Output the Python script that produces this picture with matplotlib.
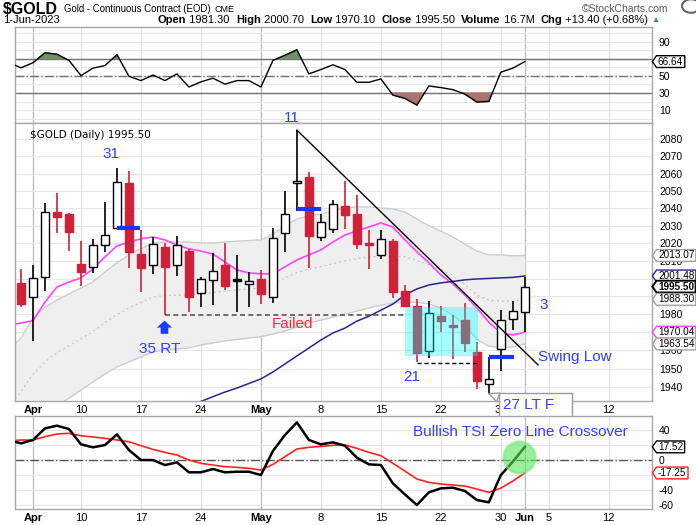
import matplotlib.pyplot as plt
import numpy as np
from matplotlib.path import Path
from matplotlib.patches import Circle
from matplotlib.ticker import FixedLocator, NullLocator, FuncFormatter

plt.rcParams['font.family'] = ['Liberation Sans', 'DejaVu Sans']

# trading days, index 0 = 31-Mar-2023 ... 42 = 1-Jun-2023
opens = [1997.4, 1989.5, 2000.8, 2037.9, 2036.6, 2008.3, 2006.4, 2018.9, 2028.9, 2054.7,
         2014.0, 2007.6, 2017.9, 2007.4, 2015.6, 1991.7, 1999.1, 2007.8, 1999.6, 1996.7,
         1999.8, 1989.9, 2026.1, 2054.5, 2058.0, 2023.8, 2028.0, 2041.3, 2036.8, 2020.2,
         2013.4, 2021.2, 1993.0, 1984.5, 1959.6, 1978.9, 1973.9, 1976.7, 1958.9, 1941.5,
         1960.5, 1977.3, 1981.3]
highs = [2005.5, 2007.7, 2042.9, 2049.0, 2037.1, 2021.5, 2022.4, 2043.9, 2063.2, 2061.6,
         2027.6, 2023.4, 2020.3, 2024.2, 2017.0, 2001.1, 2014.3, 2020.2, 2013.4, 2003.6,
         2004.9, 2028.9, 2050.0, 2085.4, 2060.9, 2036.6, 2044.8, 2055.8, 2047.7, 2027.6,
         2027.6, 2022.5, 1996.3, 1988.3, 1987.3, 1984.5, 1979.5, 1986.3, 1964.8, 1956.6,
         1982.2, 1987.3, 2000.7]
lows = [1983.8, 1965.3, 1993.2, 2025.7, 2015.8, 1996.0, 2003.3, 2015.3, 2028.0, 2005.9,
        1992.6, 2002.6, 1979.8, 2001.6, 1981.4, 1983.9, 1985.3, 1993.6, 1981.4, 1983.9,
        1985.5, 1986.5, 2015.3, 2038.6, 2006.2, 2021.5, 2026.1, 2028.0, 2016.7, 2005.3,
        2011.0, 1988.9, 1984.1, 1953.5, 1955.6, 1970.3, 1955.1, 1959.3, 1938.6, 1936.0,
        1948.7, 1971.3, 1970.1]
closes = [1985.5, 2000.4, 2037.7, 2035.2, 2026.3, 2003.6, 2018.9, 2024.5, 2055.1, 2015.3,
          2006.2, 2019.4, 2006.8, 2018.9, 1989.9, 1999.6, 2004.2, 1995.7, 1998.5, 1998.8,
          1991.3, 2022.9, 2036.6, 2055.8, 2024.4, 2032.3, 2042.3, 2036.2, 2019.8, 2019.0,
          2022.5, 1992.6, 1984.5, 1958.7, 1980.9, 1976.3, 1972.9, 1964.2, 1943.4, 1944.1,
          1976.7, 1982.1, 1995.5]
prev_close = 1997.4  # 30-Mar

# overlays / indicators start one day earlier (30-Mar = index -1)
bb_upper = [1960.2, 1966.8, 1977.8, 1984.0, 1988.0, 1991.4, 1994.7, 1998.1, 2003.8, 2008.9,
            2013.4, 2016.8, 2020.2, 2020.7, 2020.7, 2020.7, 2020.2, 2020.2, 2020.7, 2021.2,
            2021.6, 2021.9, 2025.3, 2029.9, 2033.9, 2035.6, 2036.7, 2038.5, 2040.2, 2040.8,
            2040.8, 2040.2, 2039.6, 2037.9, 2033.8, 2030.0, 2027.0, 2023.6, 2019.6, 2015.6,
            2013.4, 2013.4, 2012.9, 2013.07]
bb_lower = [1898.0, 1908.0, 1916.0, 1923.0, 1929.5, 1933.8, 1938.2, 1942.6, 1947.0, 1950.9,
            1953.6, 1956.4, 1959.1, 1960.2, 1960.8, 1961.3, 1963.0, 1964.1, 1965.2, 1966.0,
            1966.8, 1967.6, 1969.0, 1970.7, 1972.9, 1975.1, 1976.7, 1978.4, 1980.0, 1981.8,
            1983.5, 1985.1, 1986.3, 1986.8, 1986.8, 1985.7, 1983.5, 1979.5, 1974.0, 1966.0,
            1962.4, 1961.3, 1961.9, 1963.54]
ema_line = [1974.0, 1975.1, 1976.4, 1986.8, 1995.3, 1998.1, 2000.4, 2005.5, 2012.3, 2018.5,
            2020.7, 2022.5, 2023.6, 2021.9, 2019.0, 2016.8, 2015.6, 2013.9, 2009.4, 2004.9,
            2003.2, 2002.7, 2002.7, 2006.6, 2010.6, 2013.4, 2016.2, 2020.7, 2024.7, 2027.0,
            2029.3, 2031.6, 2029.3, 2021.9, 2015.1, 2008.9, 2002.1, 1997.0, 1990.8, 1983.5,
            1975.6, 1969.6, 1968.5, 1970.04]
# slow average, index 14 ... 42
sma_line = [1930.0, 1932.0, 1934.6, 1937.1, 1939.3, 1941.8, 1944.3, 1948.1, 1952.5, 1956.9,
            1961.3, 1965.7, 1969.6, 1972.3, 1976.2, 1978.9, 1982.3, 1985.7, 1990.8, 1994.2,
            1996.4, 1997.6, 1998.4, 1999.3, 1999.8, 2000.1, 2000.4, 2000.7, 2001.48]
rsi = [65.5, 59.4, 65.3, 77.0, 75.2, 68.0, 50.3, 59.0, 62.0, 74.7, 49.5, 44.5, 51.0, 44.5,
       52.3, 37.0, 43.0, 47.3, 40.3, 44.5, 44.5, 37.0, 68.0, 74.0, 80.4, 52.3, 57.4, 62.9,
       57.4, 42.5, 42.5, 46.4, 27.6, 23.7, 15.9, 38.2, 36.3, 33.9, 28.8, 19.4, 20.2, 54.3,
       59.0, 66.64]
tsi = [26.6, 22.2, 26.7, 42.2, 45.8, 41.3, 20.9, 16.9, 20.0, 34.2, 13.3, 0.0, 0.0, -6.7,
       -3.1, -16.4, -16.4, -12.0, -16.4, -15.6, -15.6, -20.0, 12.0, 33.3, 50.2, 26.7, 20.9,
       23.6, 19.1, 3.1, -5.8, -6.7, -31.1, -45.8, -60.0, -43.1, -37.8, -36.9, -41.3, -53.3,
       -56.4, -20.0, -2.2, 17.52]
tsi_signal = [25.7, 26.7, 26.7, 31.1, 34.7, 35.6, 32.4, 30.7, 28.9, 26.7, 24.4, 19.1, 14.2,
              10.2, 6.7, 0.0, -4.4, -6.7, -8.9, -9.8, -11.1, -13.3, -5.8, 4.4, 14.7, 16.9,
              18.2, 19.6, 20.0, 15.6, 10.2, 5.8, -4.4, -14.7, -25.3, -29.8, -32.0, -33.3,
              -34.7, -38.7, -43.1, -37.5, -28.0, -17.25]

tick_pos = [1, 5, 10, 15, 20, 25, 30, 35, 40, 42, 44, 49]
tick_lab = ['Apr', '10', '17', '24', 'May', '8', '15', '22', '30', 'Jun', '5', '12']
month_pos = [1, 20, 42]

RED = '#d0213a'
BLUE = '#3040ff'
LINE_BLUE = '#1a35ff'
W, H = 696, 525


def rect(l, t, r, b):
    return [l / W, 1 - b / H, (r - l) / W, (b - t) / H]


def tag_box(x0, y0, width, height, mutation_size):
    p = 0.15 * mutation_size
    x0 -= p
    y0 -= p * 0.6
    w = width + 2 * p
    h = height + 1.2 * p
    tip = h * 0.35
    return Path([(x0 - tip, y0 + h / 2), (x0, y0 + h), (x0 + w, y0 + h), (x0 + w, y0),
                 (x0, y0), (x0 - tip, y0 + h / 2)], closed=True)


def tag(a, val, txt, edge, bold=False, lw=1.0):
    a.text(1 + 6 / 637, val, txt, transform=a.get_yaxis_transform(), va='center', ha='left',
           fontsize=7.2, fontweight='bold' if bold else 'normal', clip_on=False, zorder=6,
           bbox=dict(boxstyle=tag_box, fc='white', ec=edge, lw=lw))


def style_panel(a):
    for s in a.spines.values():
        s.set_color('#a8a8a8')
        s.set_linewidth(1.0)
    a.set_xlim(-0.5, 52.6)
    a.tick_params(axis='y', left=False, labelleft=False, right=True, labelright=True,
                  length=0, pad=5, labelsize=7.5)
    a.tick_params(axis='x', length=0, labelsize=8, pad=3)
    a.set_xticks(tick_pos)
    for p in tick_pos:
        a.axvline(p, color='#b9b9b9' if p in month_pos else '#e2e2e2', lw=0.9, zorder=0)


def num_labels(hidden):
    return FuncFormatter(lambda v, _: '' if round(v) in hidden else f'{v:.0f}')


fig = plt.figure(figsize=(W / 100, H / 100), dpi=100)

xi = np.arange(-1, 43)
xc = np.arange(43)

# ---------------- RSI panel
ax_r = fig.add_axes(rect(15, 27, 652, 123))
style_panel(ax_r)
ax_r.set_ylim(-5, 107)
ax_r.set_yticks([10, 30, 50, 70, 90])
ax_r.yaxis.set_major_formatter(num_labels([70]))
ax_r.tick_params(axis='x', labelbottom=False)
for v in range(0, 101, 10):
    ax_r.axhline(v, color='#e6e6e6', lw=0.8, zorder=0)
ax_r.axhline(70, color='#707070', lw=1.0, zorder=1)
ax_r.axhline(30, color='#707070', lw=1.0, zorder=1)
ax_r.axhline(50, color='#707070', lw=1.0, ls='-.', zorder=1)
rsi_a = np.array(rsi)
ax_r.fill_between(xi, rsi_a, 70, where=rsi_a > 70, interpolate=True, color='#6f8f68', zorder=2)
ax_r.fill_between(xi, rsi_a, 30, where=rsi_a < 30, interpolate=True, color='#a87470', zorder=2)
ax_r.plot(xi, rsi_a, color='black', lw=1.0, zorder=3)
tag(ax_r, rsi[-1], f'{rsi[-1]:.2f}', 'black')

# ---------------- price panel
ax = fig.add_axes(rect(15, 123, 652, 400.7))
style_panel(ax)
ax.set_yscale('log')
ax.set_ylim(1932.4, 2089.6)
ax.yaxis.set_major_locator(FixedLocator(list(range(1940, 2081, 10))))
ax.yaxis.set_minor_locator(NullLocator())
ax.yaxis.set_major_formatter(num_labels([2000, 1990, 1970]))
ax.set_xticklabels(tick_lab)
for lab in ax.get_xticklabels():
    if lab.get_text() in ('Apr', 'May', 'Jun'):
        lab.set_fontweight('bold')
for v in range(1940, 2081, 10):
    ax.axhline(v, color='#e6e6e6', lw=0.8, zorder=0)

up = np.array(bb_upper)
lo = np.array(bb_lower)
ax.fill_between(xi, lo, up, color='#efefef', lw=0, zorder=1)
ax.plot(xi, up, color='#cdcdcd', lw=1.0, zorder=1.5)
ax.plot(xi, lo, color='#cdcdcd', lw=1.0, zorder=1.5)
ax.plot(xi, (up + lo) / 2, color='#c4c4c4', lw=0.9, ls=(0, (1.5, 2.5)), zorder=1.5)
ax.plot(xi, ema_line, color='#ff44ff', lw=1.2, zorder=2)
ax.plot(np.arange(14, 43), sma_line, color='#25258f', lw=1.1, zorder=2)

# candles
o = np.array(opens)
c = np.array(closes)
pc = np.concatenate([[prev_close], c[:-1]])
cols = np.where(c >= pc, 'black', RED)
faces = np.where(c > o, 'white', cols)
bottoms = np.minimum(o, c)
heights = np.maximum(np.abs(c - o), 0.7)
ax.vlines(xc, lows, highs, colors=cols, lw=1.2, zorder=3)
ax.bar(xc, heights, bottom=bottoms, width=0.62, color=faces, edgecolor=cols, linewidth=1.0,
       zorder=4)

# drawings
ax.plot([23, 43.1], [2085.4, 1952.0], color='black', lw=1.0, zorder=5)
ax.hlines(2028.5, 7.97, 9.92, color=LINE_BLUE, lw=3, zorder=5)
ax.hlines(2039.8, 23.0, 25.0, color=LINE_BLUE, lw=3, zorder=5)
ax.hlines(1956.2, 39.0, 41.1, color=LINE_BLUE, lw=3, zorder=5)
ax.hlines(1979.6, 12, 32, color='#555555', lw=1.2, ls=(0, (3, 2)), zorder=5)
ax.hlines(1952.9, 33, 38, color='black', lw=1.0, ls=(0, (3, 2)), zorder=5)
ax.fill_between([32.0, 38.1], 1957.1, 1983.8, color='#00ffff', alpha=0.35, lw=0, zorder=5)

ax.text(7.54, 2071.5, '31', color=BLUE, fontsize=11, ha='center', va='center')
ax.text(22.54, 2092.6, '11', color=BLUE, fontsize=11, ha='center', va='center', clip_on=False)
ax.text(11.6, 1960.8, '35 RT', color=BLUE, fontsize=11, ha='center', va='center')
ax.annotate('', xy=(11.96, 1978.0), xytext=(11.96, 1967.6),
            arrowprops=dict(arrowstyle='simple,head_length=0.5,head_width=1.1,tail_width=0.55',
                            color='#1a3cff', lw=0), zorder=6)
ax.text(22.67, 1974.8, 'Failed', color='#ff2a2a', fontsize=11, ha='center', va='center')
ax.text(32.6, 1945.1, '21', color=BLUE, fontsize=11, ha='center', va='center')
ax.text(43.6, 1985.1, '3', color=BLUE, fontsize=11, ha='center', va='center')
ax.text(43.1, 1956.1, 'Swing Low', color=BLUE, fontsize=11, ha='left', va='center')
ax.annotate('27 LT F   ', xy=(39.0, 1936.3), xytext=(40.2, 1930.1), color=BLUE, fontsize=11,
            va='center', ha='left', annotation_clip=False, zorder=7,
            bbox=dict(boxstyle='square,pad=0.3', fc='white', ec='#999999', lw=1),
            arrowprops=dict(arrowstyle='wedge,tail_width=0.6', fc='white', ec='#999999',
                            lw=1, relpos=(0.05, 0.8), shrinkA=0, shrinkB=0))
ax.text(0.024, 0.975, '$GOLD (Daily) 1995.50', transform=ax.transAxes, fontsize=7.5,
        family='DejaVu Sans', va='top', ha='left')

tag(ax, 2013.07, '2013.07', '#a0a0a0')
tag(ax, 2001.48, '2001.48', '#25258f')
tag(ax, 1995.50, '1995.50', 'black', bold=True, lw=1.4)
tag(ax, 1988.30, '1988.30', '#a0a0a0')
tag(ax, 1970.04, '1970.04', '#ff44ff')
tag(ax, 1963.54, '1963.54', '#a0a0a0')

# ---------------- TSI panel
ax_t = fig.add_axes(rect(15, 416, 652, 509))
style_panel(ax_t)
ax_t.set_ylim(-65.3, 58.7)
ax_t.set_yticks([-60, -40, -20, 0, 20, 40])
ax_t.yaxis.set_major_formatter(num_labels([20, -20]))
ax_t.set_xticklabels(tick_lab)
for lab in ax_t.get_xticklabels():
    if lab.get_text() in ('Apr', 'May', 'Jun'):
        lab.set_fontweight('bold')
for v in range(-60, 60, 20):
    ax_t.axhline(v, color='#e6e6e6', lw=0.8, zorder=0)
ax_t.axhline(0, color='#555555', lw=1.0, ls='-.', zorder=1)
ax_t.plot(xi, tsi_signal, color='#ff2020', lw=1.2, zorder=2)
ax_t.plot(xi, tsi, color='black', lw=1.8, zorder=3)
ax_t.scatter([41.5], [4.4], s=520, color='#5be35b', alpha=0.6, edgecolors='#7ee87e',
             linewidths=2, zorder=4)
ax_t.text(32.67, 36.7, 'Bullish TSI Zero Line Crossover', color=BLUE, fontsize=11,
          ha='left', va='center')
tag(ax_t, 17.52, '17.52', 'black')
tag(ax_t, -17.25, '-17.25', '#ff2020')

# ---------------- header
fig.text(3 / W, 1 - 10 / H, '$GOLD', fontsize=11.5, fontweight='bold', va='center')
title = fig.text(64 / W, 1 - 9 / H, 'Gold - Continuous Contract (EOD)', fontsize=6.9,
                 va='center')
ax_r.annotate('CME', xy=(1, 0.5), xycoords=title, xytext=(3, 0), textcoords='offset points',
              va='center', ha='left', fontsize=6.5, annotation_clip=False)
fig.text(668 / W, 1 - 9 / H, '\u00a9StockCharts.com', fontsize=7.5, color='#555555',
         ha='right', va='center')
fig.patches.append(Circle((691 / W, 1 - 6 / H), 9 / W, transform=fig.transFigure,
                          fill=False, ec='#666666', lw=1.5))
fig.text(3 / W, 1 - 20 / H, '1-Jun-2023', fontsize=8, va='center')

parts = [('Open', True), (' 1981.30  ', False), ('High', True), (' 2000.70  ', False),
         ('Low', True), (' 1970.10  ', False), ('Close', True), (' 1995.50  ', False),
         ('Volume', True), (' 16.7M  ', False), ('Chg', True), (' +13.40 (+0.68%) ', False)]
t = fig.text(158 / W, 1 - 20 / H, parts[0][0], fontsize=8, fontweight='bold', va='center')
for txt, bold in parts[1:]:
    t = ax_r.annotate(txt, xy=(1, 0.5), xycoords=t, va='center', ha='left', fontsize=8,
                      fontweight='bold' if bold else 'normal', annotation_clip=False)
ax_r.annotate('\u25b2', xy=(1, 0.5), xycoords=t, va='center', ha='left', fontsize=6,
              color='#2e9e3e', annotation_clip=False)

fig.savefig('out.png', dpi=100)
